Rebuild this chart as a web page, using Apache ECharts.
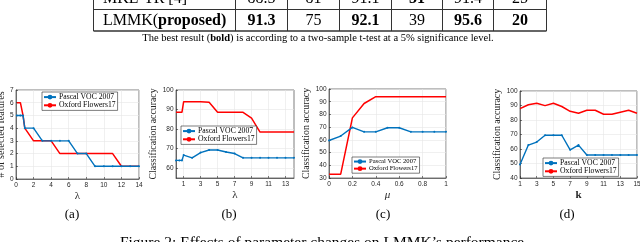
<!DOCTYPE html>
<html><head><meta charset="utf-8">
<script src="https://cdn.jsdelivr.net/npm/echarts@6/dist/echarts.min.js"></script>
<style>html,body{margin:0;padding:0;background:#fff}#c{width:640px;height:242px}</style>
</head><body><div id="c"></div>
<script>
// ---------- data ----------
const seriesNames = ['Pascal VOC 2007', 'Oxford Flowers17'];

const lambdaValues = [0.1, 0.5, 0.8, 1, 2, 3, 4, 5, 6, 7, 8, 9, 10, 11, 12, 13, 14];
const featPascal = [5, 5, 5, 4, 4, 3, 3, 3, 3, 2, 2, 1, 1, 1, 1, 1, 1];
const featOxford = [6, 6, 5, 4, 3, 3, 3, 2, 2, 2, 2, 2, 2, 2, 1, 1, 1];

const accLambdaPascal = [64, 64, 64, 66.7, 65.3, 68, 69.3, 69.3, 68.3, 67.5, 65.3, 65.3, 65.3, 65.3, 65.3, 65.3, 65.3];
const accLambdaOxford = [88.6, 88.6, 88.6, 94, 94, 94, 93.7, 88.6, 88.6, 88.6, 88.6, 85.6, 78.5, 78.5, 78.5, 78.5, 78.5];

const muValues = [0, 0.1, 0.2, 0.3, 0.4, 0.5, 0.6, 0.7, 0.8, 0.9, 1];
const accMuPascal = [59.5, 63, 69.8, 66.3, 66.3, 69.5, 69.5, 66.3, 66.3, 66.3, 66.3];
const accMuOxford = [33, 33, 77.3, 88.6, 94, 94, 94, 94, 94, 94, 94];

const kValues = [1, 2, 3, 4, 5, 6, 7, 8, 9, 10, 11, 12, 13, 14, 15];
const accKPascal = [49.3, 62.7, 64.8, 69.5, 69.5, 69.5, 59.4, 62.7, 55.9, 55.9, 55.9, 55.9, 55.9, 55.9, 55.9];
const accKOxford = [87.8, 90.5, 91.6, 89.9, 91.5, 89.3, 86, 84.7, 86.7, 86.7, 84, 84, 85.4, 86.7, 84.7];

// tick labels
const aXTicks = [0, 2, 4, 6, 8, 10, 12, 14];
const aYTicks = [0, 1, 2, 3, 4, 5, 6, 7];
const bXTicks = [1, 3, 5, 7, 9, 11, 13];
const bYTicks = [60, 70, 80, 90, 100];
const cXTicks = [0, 0.2, 0.4, 0.6, 0.8, 1];
const cYTicks = [30, 40, 50, 60, 70, 80, 90, 100];
const dXTicks = [1, 3, 5, 7, 9, 11, 13, 15];
const dYTicks = [40, 50, 60, 70, 80, 90, 100];

// table
const tableRowNames = ['MKL-TR [4]', 'LMMK'];
const tableRowSuffix = ['', 'proposed)'];
const mkltrValues = ['88.5', '81', '91.1', '31', '91.4', '25'];
const mkltrBold = [false, false, false, true, false, false];
const lmmkValues = ['91.3', '75', '92.1', '39', '95.6', '20'];
const lmmkBold = [true, false, true, false, true, true];

const subLabels = ['(a)', '(b)', '(c)', '(d)'];

// ---------- styles ----------
const SERIF = 'Liberation Serif';
const SANS = 'Liberation Sans';
const AX = '#262626';
const BLUE = '#0072BD';
const RED = '#FF0000';
const GRIDC = '#e6e6e6';

const grids = [
  { left: 16, top: 90, width: 123, height: 89 },
  { left: 176, top: 90, width: 118, height: 88 },
  { left: 329, top: 89, width: 117, height: 89 },
  { left: 520, top: 91, width: 117, height: 87 }
].map(g => Object.assign({ show: true, borderColor: AX, borderWidth: 0.6, backgroundColor: '#fff',
  containLabel: false, outerBoundsMode: 'none' }, g));

function axisCommon(ticks) {
  return {
    type: 'value',
    axisLine: { show: true, onZero: false, lineStyle: { color: AX, width: 0.6 } },
    axisTick: { show: true, inside: true, length: 2, customValues: ticks, lineStyle: { color: AX, width: 0.6 } },
    axisLabel: { customValues: ticks, fontSize: 6.5, color: AX, fontFamily: SANS, margin: 2.5 },
    splitLine: { show: true, lineStyle: { color: GRIDC, width: 0.6 } }
  };
}
function xAxis(gi, min, max, ticks, name, nameStyle) {
  return Object.assign(axisCommon(ticks), {
    gridIndex: gi, min, max, name, nameLocation: 'middle', nameGap: 11.5,
    nameTextStyle: Object.assign({ fontFamily: SERIF, fontSize: 11, color: AX }, nameStyle || {})
  });
}
function yAxis(gi, min, max, ticks, name, fs, gap) {
  return Object.assign(axisCommon(ticks), {
    gridIndex: gi, min, max, name, nameLocation: 'middle', nameGap: gap,
    nameTextStyle: { fontFamily: SERIF, fontSize: fs, color: AX }
  });
}
const zip = (xs, ys) => xs.map((x, i) => [x, ys[i]]);
function pair(gi, xs, p, o) {
  return [
    { type: 'line', name: seriesNames[0], xAxisIndex: gi, yAxisIndex: gi, data: zip(xs, p),
      symbol: 'circle', symbolSize: 2, showSymbol: true, itemStyle: { color: BLUE, borderWidth: 0 },
      lineStyle: { color: BLUE, width: 1.4 }, animation: false, z: 3 },
    { type: 'line', name: seriesNames[1], xAxisIndex: gi, yAxisIndex: gi, data: zip(xs, o),
      symbol: 'none', itemStyle: { color: RED },
      lineStyle: { color: RED, width: 1.5 }, animation: false, z: 2 }
  ];
}
function legend(left, top, fs) {
  return {
    data: seriesNames, orient: 'vertical', left, top, itemGap: 0, itemWidth: 12, itemHeight: 6,
    padding: [1, 2, 1, 1], borderColor: AX, borderWidth: 0.6, backgroundColor: '#fff',
    textStyle: { fontFamily: SERIF, fontSize: fs, color: '#000', lineHeight: fs + 0.5, padding: [0, 0, 0, -2] },
    selectedMode: false, z: 10
  };
}

// ---------- table / captions graphics ----------
const colEdges = [93.5, 235.5, 287.5, 339.5, 391.5, 442.5, 493.5, 546.5];
const tableEls = [];
colEdges.forEach(x => tableEls.push({ type: 'line', shape: { x1: x, y1: 0, x2: x, y2: 31 }, style: { stroke: '#333', lineWidth: 1 } }));
tableEls.push({ type: 'line', shape: { x1: colEdges[0], y1: 9.5, x2: colEdges[7], y2: 9.5 }, style: { stroke: '#333', lineWidth: 1 } });
tableEls.push({ type: 'line', shape: { x1: colEdges[0], y1: 31, x2: colEdges[7], y2: 31 }, style: { stroke: '#333', lineWidth: 1.6 } });
const rowY = [-1, 20.5];
const rowVals = [mkltrValues, lmmkValues];
const rowBold = [mkltrBold, lmmkBold];
const TFS = 16;
rowY.forEach((y, r) => {
  const label = tableRowSuffix[r] ? '{n|' + tableRowNames[r] + '(}{b|' + tableRowSuffix[r] + '}' : '{n|' + tableRowNames[r] + '}';
  tableEls.push({ type: 'text', style: { text: label, x: 103, y, align: 'left', verticalAlign: 'middle', textAlign: 'left', textVerticalAlign: 'middle',
    rich: { n: { fontFamily: SERIF, fontSize: TFS, fill: '#000' }, b: { fontFamily: SERIF, fontSize: TFS, fontWeight: 'bold', fill: '#000' } } } });
  rowVals[r].forEach((v, c) => {
    tableEls.push({ type: 'text', style: { text: v, x: (colEdges[c + 1] + colEdges[c + 2]) / 2, y,
      align: 'center', verticalAlign: 'middle', textAlign: 'center', textVerticalAlign: 'middle',
      fontFamily: SERIF, fontSize: TFS, fontWeight: rowBold[r][c] ? 'bold' : 'normal', fill: '#000' } });
  });
});
tableEls.push({ type: 'text', style: {
  text: '{n|The best result (}{b|bold}{n|) is according to a two-sample t-test at a 5% significance level.}',
  x: 318, y: 38.5, align: 'center', verticalAlign: 'middle', textAlign: 'center', textVerticalAlign: 'middle',
  rich: { n: { fontFamily: SERIF, fontSize: 10.5, fill: '#000' }, b: { fontFamily: SERIF, fontSize: 10.5, fontWeight: 'bold', fill: '#000' } } } });
const subX = [72, 229, 383, 567];
subLabels.forEach((t, i) => tableEls.push({ type: 'text', style: { text: t, x: subX[i], y: 215, align: 'center', verticalAlign: 'middle',
  textAlign: 'center', textVerticalAlign: 'middle', fontFamily: SERIF, fontSize: 13, fill: '#000' } }));
tableEls.push({ type: 'text', style: { text: 'Figure 2: Effects of parameter changes on LMMK\u2019s performance.', x: 324, y: 243,
  align: 'center', verticalAlign: 'middle', textAlign: 'center', textVerticalAlign: 'middle', fontFamily: SERIF, fontSize: 15.5, fill: '#000' } });

const option = {
  animation: false,
  backgroundColor: '#fff',
  textStyle: { fontFamily: SERIF },
  grid: grids,
  xAxis: [
    xAxis(0, 0, 14, aXTicks, '\u03bb'),
    xAxis(1, 0.1, 14, bXTicks, '\u03bb'),
    xAxis(2, 0, 1, cXTicks, '\u03bc', { fontStyle: 'italic' }),
    xAxis(3, 1, 15, dXTicks, 'k', { fontWeight: 'bold' })
  ],
  yAxis: [
    yAxis(0, 0, 7, aYTicks, '# of selected features', 10.2, 1.5),
    yAxis(1, 55, 100, bYTicks, 'Classification accuracy', 9.8, 9),
    yAxis(2, 30, 100, cYTicks, 'Classification accuracy', 9.8, 9),
    yAxis(3, 40, 100, dYTicks, 'Classification accuracy', 9.8, 8.5)
  ],
  legend: [legend(42, 92, 7.7), legend(181, 126, 7.7), legend(352, 157, 6.6), legend(543, 158, 7.7)],
  series: [].concat(
    pair(0, lambdaValues, featPascal, featOxford),
    pair(1, lambdaValues, accLambdaPascal, accLambdaOxford),
    pair(2, muValues, accMuPascal, accMuOxford),
    pair(3, kValues, accKPascal, accKOxford)
  ),
  graphic: { elements: tableEls }
};
const chart = echarts.init(document.getElementById('c'), null, { renderer: 'canvas' });
chart.setOption(option);
</script></body></html>
